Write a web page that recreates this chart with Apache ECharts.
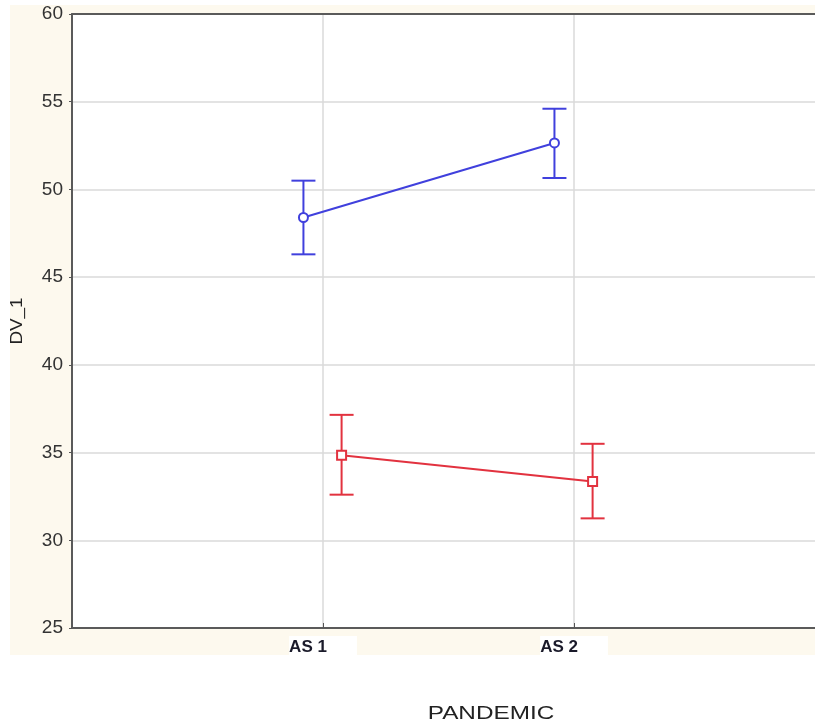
<!DOCTYPE html>
<html>
<head>
<meta charset="utf-8">
<script src="https://cdn.jsdelivr.net/npm/echarts@6/dist/echarts.min.js"></script>
<style>html,body{margin:0;padding:0;background:#fff;}#c{width:815px;height:727px;}</style>
</head>
<body>
<div id="c"></div>
<script>
const categories = ['AS 1', 'AS 2'];
const catPos = [1, 2];
const offsetBlue = -0.078;
const offsetRed = 0.074;
const blueMean = [48.4, 52.65];
const blueLow = [46.3, 50.65];
const blueHigh = [50.5, 54.6];
const redMean = [34.85, 33.35];
const redLow = [32.6, 31.25];
const redHigh = [37.15, 35.5];
const yTicks = [25, 30, 35, 40, 45, 50, 55, 60];

const BLUE = '#4040dd';
const RED = '#e2323f';

const chart = echarts.init(document.getElementById('c'), null, {renderer: 'canvas'});

function pts(mean, off) { return mean.map((v, i) => [catPos[i] + off, v]); }
function bars(lo, hi, off) { return lo.map((v, i) => [catPos[i] + off, v, hi[i]]); }

function errRender(color) {
  return function (params, api) {
    const x = api.value(0);
    const p1 = api.coord([x, api.value(1)]);
    const p2 = api.coord([x, api.value(2)]);
    const hw = 12;
    const style = {stroke: color, lineWidth: 2};
    return {
      type: 'group',
      children: [
        {type: 'line', shape: {x1: p1[0], y1: p1[1], x2: p2[0], y2: p2[1]}, style},
        {type: 'line', shape: {x1: p1[0] - hw, y1: p1[1], x2: p1[0] + hw, y2: p1[1]}, style},
        {type: 'line', shape: {x1: p2[0] - hw, y1: p2[1], x2: p2[0] + hw, y2: p2[1]}, style}
      ]
    };
  };
}

const option = {
  backgroundColor: '#ffffff',
  animation: false,
  graphic: [
    {type: 'rect', z: -100, silent: true, shape: {x: 10, y: 5, width: 805, height: 650}, style: {fill: '#fdf9ee'}},
    {type: 'text', silent: true, x: 491, y: 714, scaleX: 1.28, originX: 0, originY: 0,
     style: {text: 'PANDEMIC', fontFamily: 'Liberation Sans', fontSize: 19, fill: '#222', align: 'center', verticalAlign: 'middle'}},
    {type: 'text', silent: true, x: 18, y: 321, rotation: Math.PI / 2, originX: 0, originY: 0,
     style: {text: 'DV_1', fontFamily: 'Liberation Sans', fontSize: 16, fill: '#222', align: 'center', verticalAlign: 'middle'},
     scaleX: 1.18}
  ],
  grid: {left: 72, top: 14, right: 0, bottom: 99, outerBoundsMode: 'none', containLabel: false,
         show: true, backgroundColor: '#ffffff', borderWidth: 0},
  xAxis: [{
    type: 'value', min: 0, max: 2.96, interval: 1,
    axisLine: {show: true, lineStyle: {color: '#5a5a5a', width: 2}},
    axisTick: {show: true, inside: true, length: 5, customValues: catPos, lineStyle: {color: '#555'}},
    splitLine: {show: true, lineStyle: {color: '#dadada', width: 1.5}},
    axisLabel: {
      customValues: catPos,
      formatter: v => { const i = catPos.indexOf(v); return i >= 0 ? '{b|' + categories[i] + '}' : ''; },
      margin: 8,
      rich: {b: {fontFamily: 'Liberation Sans', fontWeight: 'bold', fontSize: 17, color: '#1a1a2a',
                 backgroundColor: '#ffffff', padding: [3, 30, 3, 0]}}
    }
  }, {
    type: 'value', position: 'top', min: 0, max: 2.96, interval: 1,
    axisLine: {show: true, lineStyle: {color: '#5a5a5a', width: 2}},
    axisTick: {show: false}, axisLabel: {show: false}, splitLine: {show: false}
  }],
  yAxis: {
    type: 'value', min: yTicks[0], max: yTicks[yTicks.length - 1], interval: 5,
    axisLine: {show: true, lineStyle: {color: '#5a5a5a', width: 2}},
    axisTick: {show: true, length: 3, lineStyle: {color: '#555'}},
    splitLine: {show: true, showMinLine: false, showMaxLine: false, lineStyle: {color: '#dadada', width: 1.5}},
    axisLabel: {fontFamily: 'Liberation Sans', fontSize: 19, color: '#333', margin: 9}
  },
  series: [
    {type: 'custom', renderItem: errRender(BLUE), data: bars(blueLow, blueHigh, offsetBlue), z: 3, silent: true},
    {type: 'custom', renderItem: errRender(RED), data: bars(redLow, redHigh, offsetRed), z: 3, silent: true},
    {type: 'line', data: pts(blueMean, offsetBlue), symbol: 'emptyCircle', symbolSize: 9,
     lineStyle: {color: BLUE, width: 2}, itemStyle: {color: BLUE, borderWidth: 2}, z: 4},
    {type: 'line', data: pts(redMean, offsetRed), symbol: 'emptyRect', symbolSize: 9,
     lineStyle: {color: RED, width: 2}, itemStyle: {color: RED, borderWidth: 2}, z: 4}
  ]
};
chart.setOption(option);
</script>
</body>
</html>
